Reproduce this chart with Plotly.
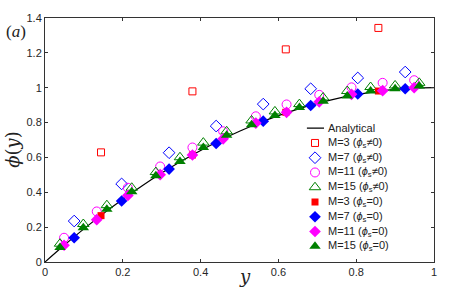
import plotly.graph_objects as go

# Analytical curve
ana_y = [0, 0.05, 0.1, 0.15, 0.2, 0.25, 0.3, 0.35, 0.4, 0.45, 0.5, 0.55, 0.6, 0.65, 0.7, 0.75, 0.8, 0.85, 0.9, 0.95, 1.0]
ana_phi = [0, 0.0975, 0.19, 0.2775, 0.36, 0.4375, 0.51, 0.5775, 0.64, 0.6975, 0.75, 0.7975, 0.84, 0.8775, 0.91, 0.9375, 0.96, 0.9775, 0.99, 0.9975, 1.0]

# M=3
m3_y = [0.144, 0.379, 0.619, 0.857]
m3_hollow = [0.629, 0.979, 1.22, 1.343]
m3_filled = [0.266, 0.614, 0.859, 0.981]

# M=7
m7_y = [0.075, 0.197, 0.319, 0.44, 0.561, 0.683, 0.804, 0.926]
m7_hollow = [0.235, 0.448, 0.627, 0.78, 0.906, 0.994, 1.056, 1.09]
m7_filled = [0.139, 0.350, 0.533, 0.68, 0.808, 0.898, 0.964, 0.994]

# M=11
m11_y = [0.049, 0.133, 0.213, 0.296, 0.379, 0.458, 0.542, 0.621, 0.705, 0.788, 0.868, 0.949]
m11_hollow = [0.139, 0.29, 0.426, 0.548, 0.657, 0.75, 0.836, 0.904, 0.959, 1.002, 1.028, 1.043]
m11_filled = [0.096, 0.243, 0.382, 0.501, 0.614, 0.707, 0.797, 0.859, 0.919, 0.962, 0.983, 1.0]

# M=15
m15_y = [0.0386, 0.0985, 0.159, 0.223, 0.285, 0.347, 0.407, 0.467, 0.531, 0.591, 0.654, 0.715, 0.777, 0.837, 0.9, 0.962]
m15_hollow = [0.105, 0.218, 0.326, 0.426, 0.516, 0.601, 0.685, 0.75, 0.812, 0.864, 0.906, 0.944, 0.981, 1.004, 1.013, 1.028]
m15_filled = [0.083, 0.196, 0.303, 0.403, 0.495, 0.576, 0.657, 0.727, 0.787, 0.84, 0.887, 0.923, 0.953, 0.981, 0.994, 1.01]

x_ticks = [0, 0.2, 0.4, 0.6, 0.8, 1]
x_ticklabels = ["0", "0.2", "0.4", "0.6", "0.8", "1"]
y_ticks = [0, 0.2, 0.4, 0.6, 0.8, 1, 1.2, 1.4]
y_ticklabels = ["0", "0.2", "0.4", "0.6", "0.8", "1", "1.2", "1.4"]

RED = "rgb(255,0,0)"
BLUE = "rgb(0,0,255)"
MAG = "rgb(255,0,255)"
GREEN = "rgb(0,128,0)"

# layout helpers (pixel geometry of the plot area)
L, R, T, B = 45, 23, 14, 29
W, H = 457, 291
PW, PH = W - L - R, H - T - B


def px(xp):
    return (xp - L) / PW


def py(yp):
    return (H - B - yp) / PH


fig = go.Figure()
fig.add_trace(go.Scatter(x=ana_y, y=ana_phi, mode="lines", line=dict(color="black", width=1.2, shape="spline"),
                         name="Analytical", showlegend=False))


def lab(m, zero):
    return "M=%d (<i>ϕ</i><sub>s</sub>%s0)" % (m, "=" if zero else "≠")


series = [
    (m3_y, m3_hollow, lab(3, False), "square-open", RED, 7),
    (m7_y, m7_hollow, lab(7, False), "diamond-open", BLUE, 9),
    (m11_y, m11_hollow, lab(11, False), "circle-open", MAG, 9),
    (m15_y, m15_hollow, lab(15, False), "triangle-up-open", GREEN, 10),
    (m3_y, m3_filled, lab(3, True), "square", RED, 7),
    (m7_y, m7_filled, lab(7, True), "diamond", BLUE, 9),
    (m11_y, m11_filled, lab(11, True), "diamond", MAG, 9),
    (m15_y, m15_filled, lab(15, True), "triangle-up", GREEN, 10),
]
for xs, ys, name, sym, col, sz in series:
    lw = 1 if "open" in sym else 0
    fig.add_trace(go.Scatter(x=xs, y=ys, mode="markers", name=name, showlegend=False,
                             marker=dict(symbol=sym, color=col, size=sz, line=dict(color=col, width=lw))))

# ---- legend drawn in a small inset axis (rows indexed 0..8) ----
annotations = []
rows = ["Analytical"] + [s[2] for s in series]
fig.add_trace(go.Scatter(x=[0.23, 0.8], y=[0, 0], mode="lines", line=dict(color="black", width=1.2),
                         xaxis="x2", yaxis="y2", showlegend=False, hoverinfo="skip"))
for i, (xs, ys, name, sym, col, sz) in enumerate(series, start=1):
    lw = 1 if "open" in sym else 0
    fig.add_trace(go.Scatter(x=[0.5], y=[i], mode="markers", xaxis="x2", yaxis="y2", showlegend=False,
                             hoverinfo="skip",
                             marker=dict(symbol=sym, color=col, size=sz, line=dict(color=col, width=lw))))
for i, name in enumerate(rows):
    annotations.append(dict(text=name, xref="x2", yref="y2", x=0.87, y=i, xanchor="left", yanchor="middle",
                            showarrow=False,
                            font=dict(family="Liberation Sans, Arial", size=11, color="#222222")))

axis_common = dict(showgrid=False, zeroline=False, showline=True, linecolor="#333333", linewidth=1,
                   mirror="ticks", ticks="inside", ticklen=3, tickcolor="#333333",
                   tickfont=dict(family="Liberation Sans, Arial", size=11, color="#262626"))
fig.update_xaxes(range=[0, 1], tickvals=x_ticks, ticktext=x_ticklabels, **axis_common)
fig.update_yaxes(range=[0, 1.4], tickvals=y_ticks, ticktext=y_ticklabels, **axis_common)

annotations += [
    dict(text="<i>ϕ</i>(<i>y</i>)", xref="paper", yref="paper", x=px(13), y=py(148),
         xanchor="center", yanchor="middle", textangle=-90, showarrow=False,
         font=dict(family="DejaVu Serif, Liberation Serif", size=18, color="#222222")),
    dict(text="<i>y</i>", xref="paper", yref="paper", x=px(245), y=py(277),
         xanchor="center", yanchor="middle", showarrow=False,
         font=dict(family="DejaVu Serif, Liberation Serif", size=18, color="#222222")),
    dict(text="(<i>a</i>)", xref="paper", yref="paper", x=px(16), y=py(28),
         xanchor="center", yanchor="middle", showarrow=False,
         font=dict(family="Liberation Serif, DejaVu Serif", size=17, color="#222222")),
]

fig.update_layout(
    width=W, height=H,
    margin=dict(l=L, r=R, t=T, b=B),
    paper_bgcolor="white", plot_bgcolor="white",
    showlegend=False,
    xaxis2=dict(domain=[px(300), px(330)], range=[0, 1], visible=False, fixedrange=True, anchor="y2"),
    yaxis2=dict(domain=[py(253.5), py(118.5)], range=[8.5, -0.5], visible=False, fixedrange=True, anchor="x2"),
    annotations=annotations,
)

fig.write_html("out.html", config={"displayModeBar": False},
               post_script="document.body.style.margin='0';document.body.style.padding='0';")
